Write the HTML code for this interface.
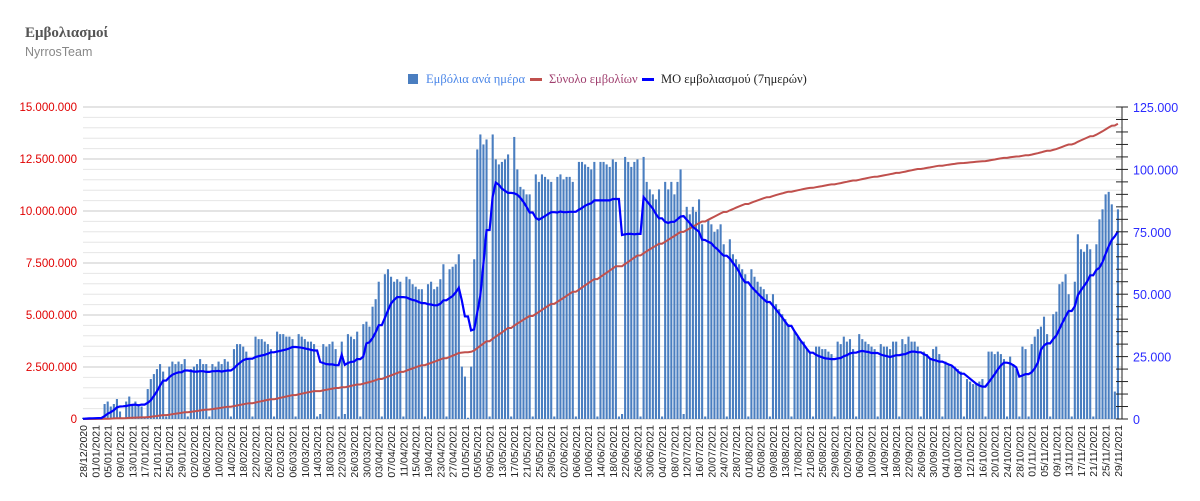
<!DOCTYPE html>
<html><head><meta charset="utf-8"><style>
body{margin:0;background:#fff;width:1200px;height:501px;overflow:hidden}
svg{display:block}
</style></head><body>
<svg id="chart" width="1200" height="501" xmlns="http://www.w3.org/2000/svg">
<text x="25" y="37" font-family="Liberation Serif, serif" font-weight="bold" font-size="15" fill="#555">Εμβολιασμοί</text>
<text x="25" y="56" font-family="Liberation Sans, sans-serif" font-size="12.5" fill="#888">NyrrosTeam</text>
<g id="grid"></g>
<g id="bars"></g>
<g id="lines"></g>
<g id="axes"></g>
<g font-family="Liberation Serif, serif" font-size="12.5">
<rect x="408" y="74" width="10" height="10" fill="#4a7ec0"/>
<text x="426" y="83" fill="#4a86e8">Εμβόλια ανά ημέρα</text>
<rect x="530" y="78" width="12" height="3" fill="#c0504d"/>
<text x="549" y="83" fill="#a0406f">Σύνολο εμβολίων</text>
<rect x="642" y="78" width="12" height="3" fill="#0000ff"/>
<text x="661" y="83" fill="#222">ΜΟ εμβολιασμού (7ημερών)</text>
</g>
</svg>
<script>
// daily vaccinations (thousands), week by week starting Monday 28/12/2020
const daily = [
0.5,0.5,0.6,0.5,0.2,0.3,0.1,
6,7,5,6,8,3,0.5,
7,9,6,7,6,5,0.5,
12,16,18,20,22,19,1,
21,23,22,23,22,24,1,
20,21,22,24,22,22,1,
22,21,23,22,24,23,1,
28,30,30,29,27,24,1,
33,32,32,31,30,28,1,
35,34,34,33,33,32,1,
34,33,32,31,31,30,1,
2,30,29,30,31,28,1,
31,2,34,33,32,35,1,
38,39,37,45,48,55,1,
58,60,57,55,56,55,1,
57,56,54,53,52,52,1,
54,55,52,53,56,62,1,
60,61,62,66,21,17,0.5,
21,64,108,114,110,112,1,
114,104,102,103,104,106,1,
113,100,93,92,90,90,1,
98,95,98,97,96,95,1,
97,98,96,97,97,95,1,
103,103,102,101,100,103,1,
103,103,102,101,104,103,1,
2,105,103,101,103,104,1,
105,95,92,90,88,92,1,
95,92,95,90,95,100,2,
85,82,85,83,88,78,1,
80,78,75,76,78,70,1,
72,66,64,62,60,58,1,
60,57,55,53,52,50,1,
50,46,44,42,40,38,1,
35,33,31,31,28,27,1,
29,29,28,28,27,26,1,
31,30,33,31,32,28,1,
34,32,31,30,29,28,1,
30,29,29,28,31,31,1,
32,30,33,31,31,29,1,
27,26,24,28,29,26,1,
23,22,21,21,20,19,1,
16,15,14,14,15,16,1,
27,27,26,27,26,24,1,
25,22,20,1,29,28,1,
30,33,36,37,41,34,1,
42,43,54,55,58,50,1,
55,74,68,67,70,68,1,
70,80,84,90,91,86,11,
84];
const leftTicks = [0,2500000,5000000,7500000,10000000,12500000,15000000];
const rightTicks = [0,25000,50000,75000,100000,125000];
const startDate = [2020,11,28];

const NS='http://www.w3.org/2000/svg';
const X0=83, DX=3.08, Y0=419, H=312;
const xAt=i=>X0+i*DX;
const yL=v=>Y0-v/15000000*H;
const yR=v=>Y0-v/125000*H;
function el(tag,attrs,parent){const e=document.createElementNS(NS,tag);for(const k in attrs)e.setAttribute(k,attrs[k]);parent.appendChild(e);return e;}
const grid=document.getElementById('grid'),bars=document.getElementById('bars'),lines=document.getElementById('lines'),axes=document.getElementById('axes');
for(let v=0;v<=15000000;v+=500000){
  const major=v%2500000===0;
  const g=el('line',{x1:83,x2:1122,y1:yL(v),y2:yL(v),stroke:major?'#c8c8c8':'#e6e6e6','stroke-width':1},grid);
  
  
}
leftTicks.forEach(v=>{
  const t=el('text',{x:77,y:yL(v)+4,'text-anchor':'end','font-family':'Liberation Sans, sans-serif','font-size':11.5,fill:'#e00000'},axes);
  t.textContent=v.toLocaleString('de-DE');
  
  
});
const ra=el('line',{x1:1122,x2:1122,y1:yR(125000),y2:Y0,stroke:'#222','stroke-width':1},axes);


for(let v=0;v<=125000;v+=5000){
  const tk=el('line',{x1:1116,x2:1128,y1:yR(v),y2:yR(v),stroke:'#222','stroke-width':1},axes);
  
  
}
rightTicks.forEach(v=>{
  const t=el('text',{x:1133,y:yR(v)+5,'font-family':'Liberation Sans, sans-serif','font-size':12.5,fill:'#2b2bff'},axes);
  t.textContent=v.toLocaleString('de-DE');
  
  
});
daily.forEach((v,i)=>{
  const b=el('rect',{x:xAt(i)-1,y:yR(v*1000),width:2.1,height:Y0-yR(v*1000),fill:'#4a7ec0'},bars);
  
  
});
let cum=0,cp=[],mp=[];
daily.forEach((v,i)=>{
  cum+=v*1000;cp.push(xAt(i).toFixed(1)+','+yL(cum).toFixed(1));
  let s=0;for(let j=Math.max(0,i-6);j<=i;j++){s+=daily[j];}
  mp.push(xAt(i).toFixed(1)+','+yR(s/7*1000).toFixed(1));
});
const cl=el('polyline',{points:cp.join(' '),fill:'none',stroke:'#c0504d','stroke-width':2},lines);


const ml=el('polyline',{points:mp.join(' '),fill:'none',stroke:'#0000ff','stroke-width':2.2},lines);


for(let i=0;i<daily.length;i+=4){
  const d=new Date(startDate[0],startDate[1],startDate[2]+i);
  const s=String(d.getDate()).padStart(2,'0')+'/'+String(d.getMonth()+1).padStart(2,'0')+'/'+d.getFullYear();
  const x=xAt(i)+4,y=425;
  const t=el('text',{x:x,y:y,'text-anchor':'end','font-family':'Liberation Sans, sans-serif','font-size':10.5,fill:'#222',transform:'rotate(-90 '+x+' '+y+')'},axes);
  t.textContent=s;
  
  
}
</script>
</body></html>
